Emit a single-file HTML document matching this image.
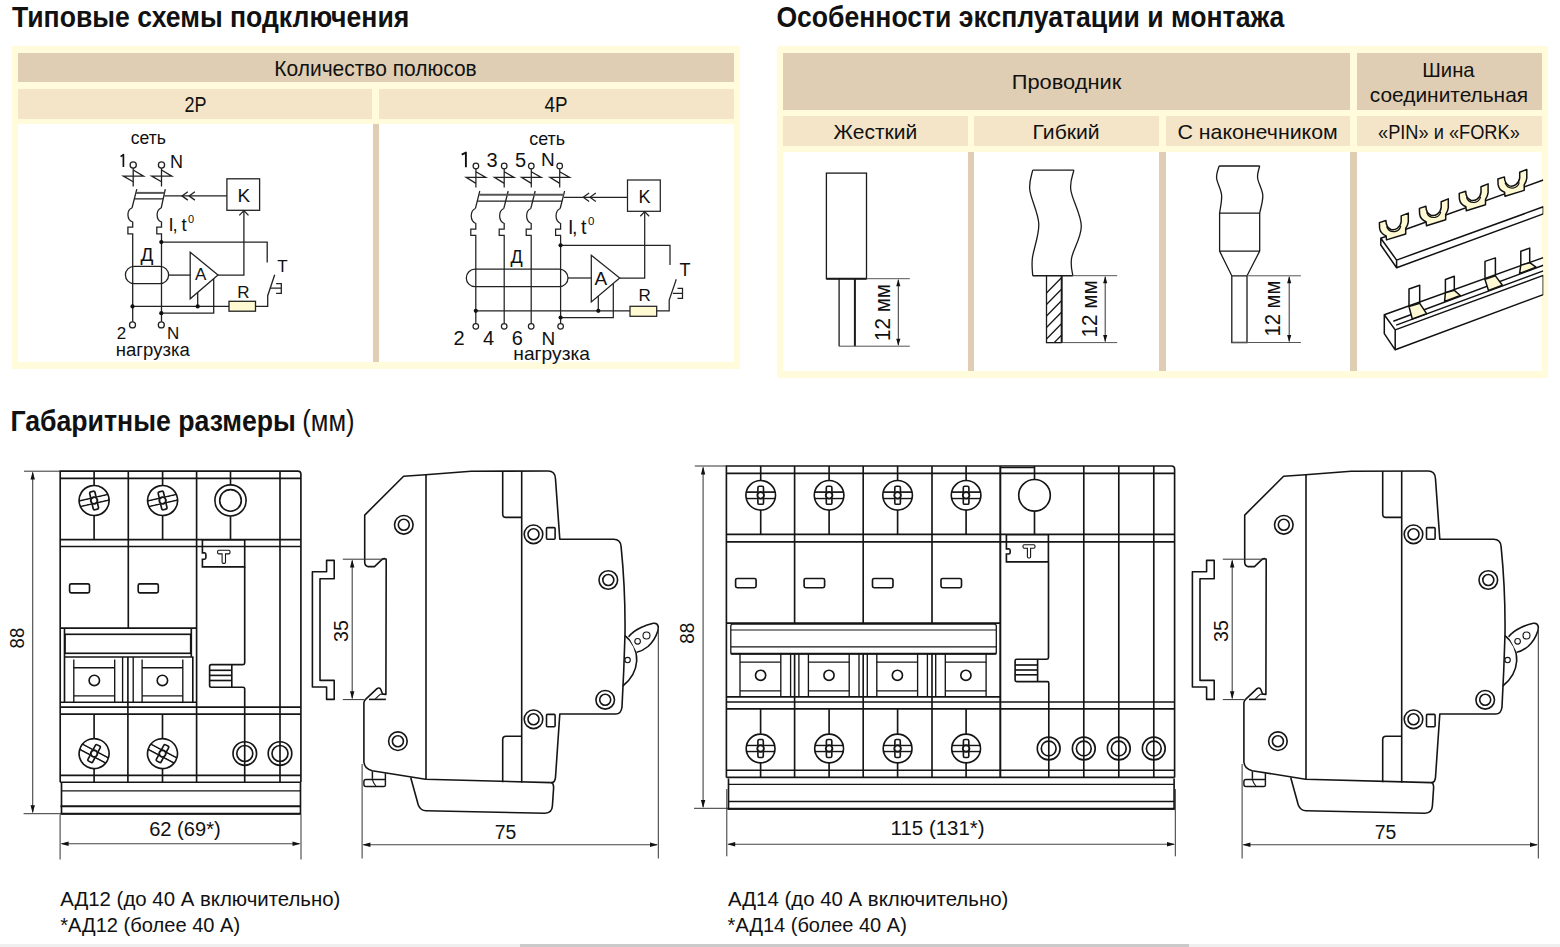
<!DOCTYPE html>
<html><head><meta charset="utf-8"><title>АД12 АД14</title>
<style>
html,body{margin:0;padding:0;background:#fff;}
body{width:1560px;height:947px;overflow:hidden;position:relative;font-family:"Liberation Sans",sans-serif;}
.b{position:absolute;}
.y{background:#FFFBDB;}
.t{background:#DFCEB3;}
.s{background:#F4E4C8;}
.w{background:#fff;}
svg{position:absolute;left:0;top:0;}
</style></head><body>
<!-- left table -->
<div class="b y" style="left:12px;top:46px;width:728px;height:323px"></div>
<div class="b t" style="left:18px;top:53px;width:716px;height:29px"></div>
<div class="b s" style="left:18px;top:89px;width:354px;height:30px"></div>
<div class="b s" style="left:379px;top:89px;width:355px;height:30px"></div>
<div class="b w" style="left:18px;top:124px;width:355px;height:238px"></div>
<div class="b t" style="left:373px;top:124px;width:6px;height:238px"></div>
<div class="b w" style="left:379px;top:124px;width:355px;height:238px"></div>
<!-- right table -->
<div class="b y" style="left:777px;top:46px;width:771px;height:332px"></div>
<div class="b t" style="left:783px;top:53px;width:567px;height:57px"></div>
<div class="b t" style="left:1357px;top:53px;width:185px;height:57px"></div>
<div class="b s" style="left:783px;top:116px;width:185px;height:30px"></div>
<div class="b s" style="left:974px;top:116px;width:185px;height:30px"></div>
<div class="b s" style="left:1166px;top:116px;width:184px;height:30px"></div>
<div class="b s" style="left:1357px;top:116px;width:185px;height:30px"></div>
<div class="b w" style="left:783px;top:152px;width:185px;height:219px"></div>
<div class="b t" style="left:968px;top:152px;width:6px;height:219px"></div>
<div class="b w" style="left:974px;top:152px;width:185px;height:219px"></div>
<div class="b t" style="left:1159px;top:152px;width:7px;height:219px"></div>
<div class="b w" style="left:1166px;top:152px;width:184px;height:219px"></div>
<div class="b t" style="left:1350px;top:152px;width:7px;height:219px"></div>
<div class="b w" style="left:1357px;top:152px;width:185px;height:219px"></div>
<!-- scrollbar -->
<div class="b" style="left:0;top:944px;width:1560px;height:3px;background:#EFEFEF"></div>
<div class="b" style="left:520px;top:944px;width:669px;height:3px;background:#CACACA"></div>

<svg width="1560" height="947" viewBox="0 0 1560 947" font-family="Liberation Sans, sans-serif" fill="#111">
<g id="texts">
<text x="12" y="27.3" font-size="29.2" font-weight="bold" textLength="397.3" lengthAdjust="spacingAndGlyphs">Типовые схемы подключения</text>
<text x="776.4" y="27.3" font-size="29.2" font-weight="bold" textLength="508" lengthAdjust="spacingAndGlyphs">Особенности эксплуатации и монтажа</text>
<text x="10.4" y="430.6" font-size="29.2" font-weight="bold" textLength="285.5" lengthAdjust="spacingAndGlyphs">Габаритные размеры</text>
<text x="302.3" y="430.6" font-size="29" textLength="52.3" lengthAdjust="spacingAndGlyphs">(мм)</text>

<text x="274.3" y="75.8" font-size="21.2" textLength="202.4" lengthAdjust="spacingAndGlyphs">Количество полюсов</text>
<text x="184.4" y="111.8" font-size="21.2" textLength="22" lengthAdjust="spacingAndGlyphs">2P</text>
<text x="544.6" y="111.8" font-size="21.2" textLength="23" lengthAdjust="spacingAndGlyphs">4P</text>

<text x="1011.8" y="89.2" font-size="20.7" textLength="109.4" lengthAdjust="spacingAndGlyphs">Проводник</text>
<text x="1422.3" y="76.7" font-size="20.7" textLength="52.3" lengthAdjust="spacingAndGlyphs">Шина</text>
<text x="1369.8" y="102.1" font-size="20.7" textLength="158.3" lengthAdjust="spacingAndGlyphs">соединительная</text>
<text x="833.6" y="138.9" font-size="20.7" textLength="83.6" lengthAdjust="spacingAndGlyphs">Жесткий</text>
<text x="1032.6" y="138.9" font-size="20.7" textLength="67" lengthAdjust="spacingAndGlyphs">Гибкий</text>
<text x="1177.4" y="138.9" font-size="20.7" textLength="160.3" lengthAdjust="spacingAndGlyphs">С наконечником</text>
<text x="1378" y="139" font-size="20.7" textLength="141.8" lengthAdjust="spacingAndGlyphs">«PIN» и «FORK»</text>

<text x="60.2" y="906" font-size="19.5" textLength="280.2" lengthAdjust="spacingAndGlyphs">АД12 (до 40 А включительно)</text>
<text x="60.2" y="932.3" font-size="19.5" textLength="180" lengthAdjust="spacingAndGlyphs">*АД12 (более 40 А)</text>
<text x="728" y="906" font-size="19.5" textLength="280.3" lengthAdjust="spacingAndGlyphs">АД14 (до 40 А включительно)</text>
<text x="727.6" y="932.3" font-size="19.5" textLength="179.2" lengthAdjust="spacingAndGlyphs">*АД14 (более 40 А)</text>
</g>

<g id="d2p" fill="none" stroke="#222" stroke-width="1.3">
 <circle cx="133.2" cy="165" r="3.1"/>
 <circle cx="161.5" cy="165" r="3.1"/>
 <path d="M133.2,168.1V186.4M161.5,168.1V186.4"/>
 <path d="M133.2,170L143.5,176.1H123.4L133.2,181.7"/>
 <path d="M161.5,170L171.8,176.1H151.7L161.5,181.7"/>
 <path d="M136.8,189.1L132,208M165.3,189.1L161.2,208"/>
 <path d="M135.8,192.9H164.4" stroke="#555" stroke-width="2"/>
 <path d="M134.3,198.9H163.1M164.4,195.9H226.9"/>
 <path d="M187.8,191.7L182,195.9L187.8,200.1M194.9,191.7L189.1,195.9L194.9,200.1"/>
 <rect x="226.9" y="178.8" width="32.7" height="31.5"/>
 <path d="M132,208C126.5,210 126.5,220 132.7,222V227.1H127.9V233.8H132.7V321.8"/>
 <path d="M161.2,208C155.7,210 155.7,220 161.5,222V227.1H156.8V233.8H161.5V321.8"/>
 <path d="M161.3,242.1H267.2V262.5"/>
 <path d="M243.9,210.8V275.1H218"/>
 <path d="M239.3,215.4L243.9,210.6L248.5,215.4"/>
 <path d="M190.2,252.2L218,275.1L190.2,298.8Z"/>
 <rect x="125.4" y="266.3" width="43.2" height="17.4" rx="8.7"/>
 <path d="M168.6,275.1H190.2"/>
 <path d="M132.5,306.4H229M197.7,292.4V306.4"/>
 <rect x="229" y="301.3" width="26.5" height="9.9" fill="#FFFAD2"/>
 <path d="M255.5,306.4H267.7V295.7L274.7,274.7"/>
 <path d="M270.3,288.1H281.3M276.1,283.7H281.3V293.3H276.1"/>
 <path d="M161.3,313.2H213.7V279"/>
 <circle cx="132.5" cy="324.9" r="3"/>
 <circle cx="161.3" cy="324.9" r="3"/>
 <g fill="#111" stroke="none">
  <circle cx="161.3" cy="242.1" r="2.1"/>
  <circle cx="132.5" cy="306.4" r="2.1"/>
  <circle cx="197.7" cy="306.4" r="2.1"/>
  <circle cx="161.3" cy="313.2" r="2.1"/>
 </g>
</g>
<g id="t2p" fill="#111" font-size="18">
 <text x="130.8" y="144.2" textLength="35.2" lengthAdjust="spacingAndGlyphs">сеть</text>
 <path d="M120.6,156.6L123.4,154.6V166.9" fill="none" stroke="#111" stroke-width="1.7" stroke-linejoin="round"/>
 <text x="170" y="167.7">N</text>
 <text x="237.5" y="201.7" font-size="19">K</text>
 <text x="168.6" y="231.4" font-size="18.5">I</text>
 <text x="172.4" y="231.4" font-size="18.5">,</text>
 <text x="181.5" y="231.4" font-size="18.5">t</text>
 <text x="188" y="223" font-size="11">0</text>
 <text x="195" y="280.3" font-size="17">A</text>
 <text x="140.6" y="261.1" font-size="19">Д</text>
 <text x="237.2" y="297.5" font-size="17">R</text>
 <text x="277.2" y="272" font-size="17">T</text>
 <text x="116.8" y="338.6" font-size="17">2</text>
 <text x="167" y="338.6" font-size="17">N</text>
 <text x="115.8" y="355.8" textLength="74" lengthAdjust="spacingAndGlyphs">нагрузка</text>
</g>

<g id="d4p" fill="none" stroke="#222" stroke-width="1.25">
<circle cx="475.9" cy="166" r="2.8"/>
<path d="M475.9,168.8V187.6M475.9,171.8L485.8,177.4H466.2L475.9,183.4"/>
<path d="M479.8,191L475.4,208.5"/>
<path d="M475.4,208.5C469.8,211 469.8,221 475.8,223.5V229.2H470.8V235.4H475.8V323.5"/>
<circle cx="475.8" cy="326.3" r="2.8"/>
<circle cx="504.2" cy="166" r="2.8"/>
<path d="M504.2,168.8V187.6M504.2,171.8L514.1,177.4H494.5L504.2,183.4"/>
<path d="M508.2,191L503.8,208.5"/>
<path d="M503.8,208.5C498.2,211 498.2,221 504.2,223.5V229.2H499.2V235.4H504.2V323.5"/>
<circle cx="504.2" cy="326.3" r="2.8"/>
<circle cx="531.3" cy="166" r="2.8"/>
<path d="M531.3,168.8V187.6M531.3,171.8L541.2,177.4H521.6L531.3,183.4"/>
<path d="M535.2,191L530.8,208.5"/>
<path d="M530.8,208.5C525.2,211 525.2,221 531.2,223.5V229.2H526.2V235.4H531.2V323.5"/>
<circle cx="531.2" cy="326.3" r="2.8"/>
<circle cx="559.7" cy="166" r="2.8"/>
<path d="M559.7,168.8V187.6M559.7,171.8L569.6,177.4H550.0L559.7,183.4"/>
<path d="M564.6,191L560.2,208.5"/>
<path d="M560.2,208.5C554.6,211 554.6,221 560.6,223.5V229.2H555.6V235.4H560.6V323.5"/>
<circle cx="560.6" cy="326.3" r="2.8"/>
 <path d="M479.2,194.8H563.8" stroke="#555" stroke-width="2"/>
 <path d="M477.3,201.2H562.3M563.8,197.3H627.5"/>
 <path d="M589.1,193.1L583.3,197.3L589.1,201.5M595.8,193.1L590,197.3L595.8,201.5"/>
 <rect x="627.5" y="180" width="32.8" height="31.3"/>
 <path d="M644.7,211.8V278H619.7"/>
 <path d="M640.3,216.2L644.7,211.6L649.1,216.2"/>
 <path d="M560.6,245.3H670V265"/>
 <rect x="466.3" y="269.2" width="101.7" height="17.5" rx="8.75"/>
 <path d="M568,278H591.3"/>
 <path d="M591.3,255.3L619.7,278L591.3,302Z"/>
 <path d="M475.8,310.8H630M598.3,296.1V310.8"/>
 <rect x="630" y="306.3" width="26.7" height="10" fill="#FFFAD2"/>
 <path d="M656.7,310.8H669.2V300L676.3,279.2"/>
 <path d="M672.8,293.3H682.5M677.5,288.3H682.5V298.3H677.5"/>
 <path d="M560.6,317.5H613.3V283.4"/>
 <g fill="#111" stroke="none">
  <circle cx="560.6" cy="245.3" r="2.1"/>
  <circle cx="475.8" cy="310.8" r="2.1"/>
  <circle cx="598.3" cy="310.8" r="2.1"/>
  <circle cx="560.6" cy="317.5" r="2.1"/>
 </g>
</g>
<g id="t4p" fill="#111" font-size="19">
 <text x="529.2" y="144.7" textLength="35.8" lengthAdjust="spacingAndGlyphs">сеть</text>
 <path d="M461.7,154.6L465.9,152.6V167.2" fill="none" stroke="#111" stroke-width="1.9" stroke-linejoin="round"/>
 <text x="486.6" y="167" font-size="20">3</text>
 <text x="515" y="167" font-size="20">5</text>
 <text x="541" y="165.7">N</text>
 <text x="638.5" y="203" font-size="18">K</text>
 <text x="568.1" y="233.6" font-size="19.5">I</text>
 <text x="572" y="233.6" font-size="19.5">,</text>
 <text x="581.1" y="233.6" font-size="19.5">t</text>
 <text x="587.9" y="224.7" font-size="11.5">0</text>
 <text x="594.5" y="284.7" font-size="19">A</text>
 <text x="510.5" y="262.5" font-size="18">Д</text>
 <text x="638.5" y="301.3" font-size="17">R</text>
 <text x="679.5" y="275.5" font-size="18">T</text>
 <text x="453.4" y="344.7" font-size="20">2</text>
 <text x="482.9" y="344.7" font-size="20">4</text>
 <text x="511.7" y="344.7" font-size="20">6</text>
 <text x="541.5" y="344.7" font-size="19">N</text>
 <text x="513.3" y="360.3" textLength="76.7" lengthAdjust="spacingAndGlyphs">нагрузка</text>
</g>

<defs><clipPath id="hclip"><rect x="1046.5" y="275.7" width="15.2" height="66.9"/></clipPath></defs>
<g id="cond" fill="none" stroke="#1a1a1a" stroke-width="1.3">
<rect x="826.4" y="173.1" width="40.1" height="105.6"/>
<path d="M826.4,278.7H866.5" stroke-width="2"/>
<path d="M839.1,278.7V346.2"/>
<path d="M854.9,278.7V346.2" stroke-width="2"/>
<path d="M839.1,346.2H909.8M866.5,278.7H909.8" stroke="#555" stroke-width="1"/>
<path d="M898.3,279.7V345.2" stroke="#333" stroke-width="1"/><path d="M898.3,279.2L896.1999999999999,286.2H900.4Z M898.3,345.7L896.1999999999999,338.7H900.4Z" fill="#111" stroke="none"/>
<path d="M1032.7,170.1C1032.2,173.4 1028.8,181.0 1029.8,190.0C1030.8,199.0 1038.4,212.7 1038.8,224.0C1039.2,235.3 1033.4,249.4 1032.4,258.0C1031.4,266.6 1032.7,272.8 1032.7,275.7"/>
<path d="M1073.9,170.1C1073.4,173.4 1069.6,180.7 1070.8,190.0C1072.0,199.3 1081.2,214.7 1081.3,226.0C1081.4,237.3 1073.0,249.7 1071.6,258.0C1070.2,266.3 1072.6,272.8 1072.8,275.7"/>
<path d="M1032.7,170.1H1073.9"/>
<path d="M1032.7,275.7H1072.8" stroke-width="1.6"/>
<path d="M1072.8,275.7H1117.2M1046.5,342.6H1117.2" stroke="#555" stroke-width="1"/>
<path d="M1046.5,275.7V342.6H1061.7"/>
<path d="M1061.7,275.7V342.6" stroke-width="2"/>
<path d="M1046.5,293.0L1061.2,278.0M1046.5,304.5L1061.2,289.5M1046.5,316.0L1061.2,301.0M1046.5,327.5L1061.2,312.5M1046.5,339.0L1061.2,324.0M1046.5,350.5L1061.2,335.5" clip-path="url(#hclip)"/>
<path d="M1105.2,276.7V341.6" stroke="#333" stroke-width="1"/><path d="M1105.2,276.2L1103.1000000000001,283.2H1107.3Z M1105.2,342.1L1103.1000000000001,335.1H1107.3Z" fill="#111" stroke="none"/>
<path d="M1219.1,166.0C1218.7,168.0 1216.2,173.2 1216.6,178.0C1217.0,182.8 1221.1,189.2 1221.6,195.0C1222.1,200.8 1219.9,210.1 1219.6,213.1"/>
<path d="M1259.7,166.0C1259.3,168.0 1257.1,173.2 1257.6,178.0C1258.1,182.8 1262.4,189.2 1262.8,195.0C1263.2,200.8 1260.2,210.1 1259.7,213.1"/>
<path d="M1219.1,166H1259.7M1219.6,213.1H1259.7"/>
<path d="M1219.6,213.1V251.1L1231.8,275.8V342.5H1247V275.8L1259.7,251.1V213.1M1219.6,251.1H1259.7M1231.8,275.8H1247"/>
<path d="M1247,275.8H1300.9M1231.8,342.5H1300.9" stroke="#555" stroke-width="1"/>
<path d="M1289.2,276.8V341.5" stroke="#333" stroke-width="1"/><path d="M1289.2,276.3L1287.1000000000001,283.3H1291.3Z M1289.2,342.0L1287.1000000000001,335.0H1291.3Z" fill="#111" stroke="none"/>
</g>
<g fill="#111" font-size="22">
 <text transform="translate(889.7,341) rotate(-90)" textLength="57" lengthAdjust="spacingAndGlyphs">12 мм</text>
 <text transform="translate(1096.6,337.4) rotate(-90)" textLength="57" lengthAdjust="spacingAndGlyphs">12 мм</text>
 <text transform="translate(1280.3,336.6) rotate(-90)" textLength="56" lengthAdjust="spacingAndGlyphs">12 мм</text>
</g>

<defs><clipPath id="bclip"><rect x="1357" y="152" width="186.3" height="219"/></clipPath></defs>
<g id="bus" fill="none" stroke="#111" stroke-width="1.5" stroke-linejoin="round" clip-path="url(#bclip)">
 <path d="M1380.8,238.3L1543.3,180"/>
 <path d="M1380.8,238.3V245L1396.6,267.7V260.1ZM1396.6,260.1L1543.3,206.8V213.9L1396.6,267.7"/>
 <g transform="translate(0,0)"><path d="M1379.4,222.6L1385.9,220.5C1386,224.5 1387.5,228 1391,229.5C1395,230.8 1400.5,227.5 1401.2,221.5L1401.2,215.9L1408.3,213.1L1408.3,221.8C1408,224.5 1407,226.5 1405.7,228.5L1405.7,234L1386.5,239.9L1386.1,235.9C1382.5,234.5 1380,231.5 1379.6,228Z" fill="#FFF9D4"/><path d="M1386.6,226.5C1388,230.5 1391.5,232 1395,231.6C1398,231 1400,229 1400.8,226" stroke-width="1.2"/></g>
<g transform="translate(40,-14.2)"><path d="M1379.4,222.6L1385.9,220.5C1386,224.5 1387.5,228 1391,229.5C1395,230.8 1400.5,227.5 1401.2,221.5L1401.2,215.9L1408.3,213.1L1408.3,221.8C1408,224.5 1407,226.5 1405.7,228.5L1405.7,234L1386.5,239.9L1386.1,235.9C1382.5,234.5 1380,231.5 1379.6,228Z" fill="#FFF9D4"/><path d="M1386.6,226.5C1388,230.5 1391.5,232 1395,231.6C1398,231 1400,229 1400.8,226" stroke-width="1.2"/></g>
<g transform="translate(79.8,-29.2)"><path d="M1379.4,222.6L1385.9,220.5C1386,224.5 1387.5,228 1391,229.5C1395,230.8 1400.5,227.5 1401.2,221.5L1401.2,215.9L1408.3,213.1L1408.3,221.8C1408,224.5 1407,226.5 1405.7,228.5L1405.7,234L1386.5,239.9L1386.1,235.9C1382.5,234.5 1380,231.5 1379.6,228Z" fill="#FFF9D4"/><path d="M1386.6,226.5C1388,230.5 1391.5,232 1395,231.6C1398,231 1400,229 1400.8,226" stroke-width="1.2"/></g>
<g transform="translate(118.5,-43.6)"><path d="M1379.4,222.6L1385.9,220.5C1386,224.5 1387.5,228 1391,229.5C1395,230.8 1400.5,227.5 1401.2,221.5L1401.2,215.9L1408.3,213.1L1408.3,221.8C1408,224.5 1407,226.5 1405.7,228.5L1405.7,234L1386.5,239.9L1386.1,235.9C1382.5,234.5 1380,231.5 1379.6,228Z" fill="#FFF9D4"/><path d="M1386.6,226.5C1388,230.5 1391.5,232 1395,231.6C1398,231 1400,229 1400.8,226" stroke-width="1.2"/></g>

 <path d="M1384.3,314.7V333.7L1395.2,349.8V329.9ZM1384.3,314.7L1543.3,257.6"/>
 <path d="M1393.3,321.3L1543.3,265.3M1396.2,325.1L1543.3,270.9"/>
 <path d="M1395.2,329.9L1543.3,275.4V294.6L1395.2,349.8"/>
 <path d="M1409,306.6V289L1419.7,285.2V303.3"/>
 <path d="M1409,306.6L1419.7,303.3L1426.6,313.7L1412.3,319Z" fill="#FFF9D4"/>
 <path d="M1445.4,292.8V279.5L1454.3,276.2V290.4"/>
 <path d="M1445.4,292.8L1454.3,290.4L1460.3,295.5L1444.6,301.4Z" fill="#FFF9D4"/>
 <path d="M1485,279.4V261.4L1495.4,257.9V275.9"/>
 <path d="M1485,279.4L1495.4,275.9L1502.4,285.2L1488.5,290.4Z" fill="#FFF9D4"/>
 <path d="M1520.8,265.2V251.3L1529.7,248.1V262.7"/>
 <path d="M1520.8,265.2L1529.7,262.7L1536,267.1L1519.6,273.4Z" fill="#FFF9D4"/>
</g>
<!--DIMS-->
<g id="f2p" fill="none" stroke="#151515" stroke-width="1.65">
<path d="M60.2,782.2V471.1H297.9Q300.9,471.1 300.9,474.1V782.2" />
<path d="M128.3,471.1V628.1" />
<path d="M196.6,471.1V782.2" />
<path d="M280,471.1V782.2" />
<path d="M60.2,478.4H300.9" />
<path d="M60.2,539.6H300.9" />
<path d="M60.2,628.1H196.6" />
<path d="M60.2,702.2H196.6" />
<path d="M60.2,707.1H300.9" />
<path d="M60.2,714.1H300.9" />
<path d="M60.2,775.4H300.9" />
<path d="M60.2,782.2H300.9" />
<path d="M94.1,471.1V485.5" />
<path d="M94.1,515.5V539.6" />
<g transform="translate(94.1,500.5) rotate(-13)"><circle r="15"/><rect x="-2.7" y="-9.2" width="5.4" height="18.4" rx="1.4" fill="#fff"/><path d="M-14.74,-2.8H14.74M-14.74,2.8H14.74"/><rect x="-1.9500000000000002" y="-2.05" width="3.9000000000000004" height="4.1" fill="#fff" stroke="none"/><rect x="-13.74" y="-2.05" width="27.47" height="4.1" fill="#fff" stroke="none"/><rect x="-1.9500000000000002" y="-3.65" width="3.9000000000000004" height="7.3" fill="#fff" stroke="none"/><circle r="3.3" fill="#fff" stroke-width="1.9"/></g>
<path d="M162.6,471.1V485.5" />
<path d="M162.6,515.5V539.6" />
<g transform="translate(162.6,500.5) rotate(-13)"><circle r="15"/><rect x="-2.7" y="-9.2" width="5.4" height="18.4" rx="1.4" fill="#fff"/><path d="M-14.74,-2.8H14.74M-14.74,2.8H14.74"/><rect x="-1.9500000000000002" y="-2.05" width="3.9000000000000004" height="4.1" fill="#fff" stroke="none"/><rect x="-13.74" y="-2.05" width="27.47" height="4.1" fill="#fff" stroke="none"/><rect x="-1.9500000000000002" y="-3.65" width="3.9000000000000004" height="7.3" fill="#fff" stroke="none"/><circle r="3.3" fill="#fff" stroke-width="1.9"/></g>
<path d="M230.5,471.1V484.6" />
<path d="M230.5,516.2V539.6" />
<circle cx="230.5" cy="500.4" r="15.6" />
<circle cx="230.5" cy="500.4" r="10.8" />
<path d="M202.4,539.9V552.8H204.4Q205.9,553 205.9,554.6V557.5Q205.9,559.1 204.4,559.2H202.4V566.9H244.7V539.9Z" fill="#fff"/>
<path d="M60.2,546.5H300.9" />
<path d="M217.6,551.4Q217.6,550.2 218.8,550.2H228.8Q230,550.2 230,551.4V552.6Q230,553.9 228.8,553.9H225.5V562.2Q225.5,563.4 224.3,563.4H223.3Q222.1,563.4 222.1,562.2V553.9H218.8Q217.6,553.9 217.6,552.6Z" stroke-width="1.1"/>
<path d="M244.7,566.9V663Q244.7,664.6 243,664.6H211.3Q209.6,664.6 209.6,666.3V685.5Q209.6,687.2 211.3,687.2H243Q244.7,687.2 244.7,688.9V782.2" />
<path d="M231.8,664.6V687.2" />
<path d="M209.6,670.3H231.8" />
<path d="M209.6,675.4H231.8" />
<path d="M209.6,680.5H231.8" />
<rect x="69.6" y="583.8" width="19.90" height="9.10" rx="1.6" />
<rect x="138.2" y="583.8" width="20.10" height="9.10" rx="1.6" />
<path d="M64.5,628.1V702.2" />
<path d="M191.3,628.1V657" />
<path d="M192.8,657V702.2" />
<rect x="65" y="634.3" width="125.70" height="19.00" rx="0" />
<path d="M64.5,657H193.4" />
<path d="M73.8,659.4V702.2" stroke-width="1.35"/>
<path d="M114.7,659.4V702.2" stroke-width="1.35"/>
<path d="M142.1,659.4V702.2" stroke-width="1.35"/>
<path d="M182.8,659.4V702.2" stroke-width="1.35"/>
<path d="M122.6,657V702.2" stroke-width="1.35"/>
<path d="M133.2,657V702.2" stroke-width="1.35"/>
<path d="M127.9,657V782.2" />
<path d="M73.8,667.7H114.7" stroke-width="1.35"/>
<path d="M73.8,695.8H114.7" stroke-width="1.35"/>
<path d="M142.1,667.7H182.8" stroke-width="1.35"/>
<path d="M142.1,695.8H182.8" stroke-width="1.35"/>
<circle cx="94.3" cy="680.4" r="5.2" />
<circle cx="162.4" cy="680.4" r="5.2" />
<path d="M94.1,714.1V738.7" />
<path d="M94.1,768.5V782.2" />
<g transform="translate(94.1,753.6) rotate(28)"><circle r="15"/><rect x="-2.7" y="-9.2" width="5.4" height="18.4" rx="1.4" fill="#fff"/><path d="M-14.74,-2.8H14.74M-14.74,2.8H14.74"/><rect x="-1.9500000000000002" y="-2.05" width="3.9000000000000004" height="4.1" fill="#fff" stroke="none"/><rect x="-13.74" y="-2.05" width="27.47" height="4.1" fill="#fff" stroke="none"/><rect x="-1.9500000000000002" y="-3.65" width="3.9000000000000004" height="7.3" fill="#fff" stroke="none"/><circle r="3.3" fill="#fff" stroke-width="1.9"/></g>
<path d="M162.5,714.1V738.7" />
<path d="M162.5,768.5V782.2" />
<g transform="translate(162.5,753.6) rotate(28)"><circle r="15"/><rect x="-2.7" y="-9.2" width="5.4" height="18.4" rx="1.4" fill="#fff"/><path d="M-14.74,-2.8H14.74M-14.74,2.8H14.74"/><rect x="-1.9500000000000002" y="-2.05" width="3.9000000000000004" height="4.1" fill="#fff" stroke="none"/><rect x="-13.74" y="-2.05" width="27.47" height="4.1" fill="#fff" stroke="none"/><rect x="-1.9500000000000002" y="-3.65" width="3.9000000000000004" height="7.3" fill="#fff" stroke="none"/><circle r="3.3" fill="#fff" stroke-width="1.9"/></g>
<circle cx="244.8" cy="753.5" r="11.8" />
<circle cx="244.8" cy="753.5" r="8" />
<circle cx="280" cy="753.5" r="11.8" />
<circle cx="280" cy="753.5" r="8" />
<path d="M61.5,782.6V813.7H300.5V782.6" />
<path d="M61.5,790.8H300.5" stroke-width="1.2"/>
<path d="M60.5,806.3H301" stroke-width="2"/>
<path d="M60.5,813.7H301" stroke-width="2"/>
</g>
<g fill="none">
<path d="M24,471.2H60" stroke="#333" stroke-width="1"/>
<path d="M23.6,813.7H60.5" stroke="#333" stroke-width="1"/>
<path d="M32.7,472.6V812.3" stroke="#444" stroke-width="1.1"/>
<path d="M32.7,471.6L30.500000000000004,479.6H34.900000000000006ZM32.7,813.3L30.500000000000004,805.3H34.900000000000006Z" fill="#111" stroke="none"/>
<path d="M60.1,814.5V859.5" stroke="#333" stroke-width="1"/>
<path d="M301,814.5V859.5" stroke="#333" stroke-width="1"/>
<path d="M61.6,843.7H299.5" stroke="#444" stroke-width="1.1"/>
<path d="M60.6,843.7L68.6,841.5V845.9000000000001ZM300.5,843.7L292.5,841.5V845.9000000000001Z" fill="#111" stroke="none"/>
</g>
<g id="side" fill="none" stroke="#151515" stroke-width="1.6" stroke-linejoin="round">
<path d="M364.7,515.1L403.6,476.2L425.5,474.8L471,471.2L548,471Q555.3,471 555.5,479L559.8,539.2L613.6,539.2Q620.8,539.4 621.1,546.6Q625.5,590 625,634Q624,670 622,707Q621.2,714 615.7,714L559.8,714L555.5,777.3Q555,782.6 551.3,782.6L425.5,779.2L372.2,770.7Q363.9,768.5 363.9,761.2L363.9,703Q364,700.6 365.8,699.2L377,688.6Q379.3,687 380.8,689.5L382.3,693.6Q383,694.4 385.9,694.4L386.2,559.4Q385,558.3 383.8,558.6Q382.8,558.8 382.1,559.4L374.5,566.6L368.2,566.6Q364.7,566 364.7,562Z" />
<path d="M369,699.4H385.9" />
<path d="M375.3,698.8L380.4,694.2H385.5" stroke-width="1.1"/>
<path d="M426,474.8V779.2" />
<path d="M521.7,471V782.6" />
<path d="M502.7,471.2V514Q502.7,517.4 506,517.4H521.7" />
<path d="M502.7,782.3V739.6Q502.7,736.2 506,736.2H521.7" />
<path d="M410.7,777.5L418.3,805Q420.5,810.6 426,810.8L545,813.2Q552,813 552.4,806L553.6,788Q553.8,783.5 551.3,782.6" />
<path d="M372.4,771.2V778.4M385.4,773.2V785Q385.4,786.4 384.2,786.4H366Q363.9,786.4 363.9,784.4V781.6Q363.9,779.4 366,779.4H385.4" stroke-width="1.45"/>
<path d="M372.4,778.6Q372.4,782 376,786" stroke-width="1.1"/>
<circle cx="403.8" cy="524.8" r="9.3" />
<circle cx="403.8" cy="524.8" r="5.5" />
<circle cx="533.5" cy="534.3" r="9.3" />
<circle cx="533.5" cy="534.3" r="5.5" />
<circle cx="608.3" cy="580" r="9.3" />
<circle cx="608.3" cy="580" r="5.5" />
<circle cx="605.2" cy="699.8" r="9.3" />
<circle cx="605.2" cy="699.8" r="5.5" />
<circle cx="533.5" cy="719.3" r="9.3" />
<circle cx="533.5" cy="719.3" r="5.5" />
<circle cx="397.9" cy="741.2" r="9.3" />
<circle cx="397.9" cy="741.2" r="5.5" />
<rect x="546.5" y="527.6" width="8.60" height="11.60" rx="1" />
<rect x="546.5" y="714.4" width="8.60" height="12.30" rx="1" />
<path d="M624.9,635.6C632,641 637,650 636.7,661C636,671 630.5,680 622.8,686" />
<circle cx="627.6" cy="660.1" r="2.7" stroke-width="1.1"/>
<path d="M628.6,636.8Q633,631 641,627.4Q647,624.6 653.4,623.3Q657.6,622.8 658.2,626.5Q658.6,629 657.6,631.5Q655,640 648,646.5Q642.5,651 636.7,652.3" fill="#fff"/>
<circle cx="637.6" cy="641.3" r="2.8" stroke-width="1.1"/>
<circle cx="646.5" cy="635.5" r="3.5" stroke-width="1.1"/>
<path d="M312.4,571.8H326.6V560.4H334.2V578.8H320V680.4H334.2V699.4H326.6V687H312.4Z" />
</g>
<g fill="none">
<path d="M342.8,559.2H386.7" stroke="#333" stroke-width="1"/>
<path d="M342.8,699.6H364.4" stroke="#333" stroke-width="1"/>
<path d="M352.2,560.5V698.3" stroke="#444" stroke-width="1.1"/>
<path d="M352.2,559.5L350.0,567.5H354.4ZM352.2,699.3L350.0,691.3H354.4Z" fill="#111" stroke="none"/>
<path d="M362.1,764V858.5" stroke="#333" stroke-width="1"/>
<path d="M658.3,628V858.5" stroke="#333" stroke-width="1"/>
<path d="M363.4,844.8H657" stroke="#444" stroke-width="1.1"/>
<path d="M362.4,844.8L370.4,842.5999999999999V847.0ZM658,844.8L650,842.5999999999999V847.0Z" fill="#111" stroke="none"/>
</g>
<g fill="#111" font-size="20.7">
<text transform="translate(24.4,648.4) rotate(-90)" font-size="21" textLength="20.6" lengthAdjust="spacingAndGlyphs">88</text>
<text x="149.2" y="836.3" textLength="71.5" lengthAdjust="spacingAndGlyphs">62 (69*)</text>
<text transform="translate(347.5,641.9) rotate(-90)" font-size="21" textLength="21.8" lengthAdjust="spacingAndGlyphs">35</text>
<text x="494.8" y="838.7" textLength="21.5" lengthAdjust="spacingAndGlyphs">75</text>
</g>
<g id="f4p" fill="none" stroke="#151515" stroke-width="1.65">
<path d="M726.4,777.4V466H1171.6Q1174.6,466 1174.6,469V777.4" />
<path d="M794.6,466V623.1" />
<path d="M794.6,653.6V777.4" />
<path d="M863.2,466V623.1" />
<path d="M863.2,653.6V777.4" />
<path d="M932.0,466V623.1" />
<path d="M932.0,653.6V777.4" />
<path d="M1000.3,466V777.4" stroke-width="2"/>
<path d="M1083.8,466V777.4" />
<path d="M1118.8,466V777.4" />
<path d="M1153.8,466V777.4" />
<path d="M1001,467.6H1034.5" stroke-width="1.1"/>
<path d="M726.4,473.4H1174.6" />
<path d="M726.4,534.3H1174.6" />
<path d="M726.4,623.1H1000.3" />
<path d="M726.4,696.9H1000.3" />
<path d="M726.4,702H1174.6" />
<path d="M726.4,708.9H1174.6" />
<path d="M726.4,770.2H1174.6" />
<path d="M726.4,777.4H1174.6" />
<path d="M760.7,466V480.6" />
<path d="M760.7,510.1V534.3" />
<g transform="translate(760.7,495.3) rotate(0)"><circle r="14.8"/><rect x="-2.8" y="-9.0" width="5.6" height="18" rx="1.4" fill="#fff"/><path d="M-14.47,-3.1H14.47M-14.47,3.1H14.47"/><rect x="-2.05" y="-2.35" width="4.1" height="4.7" fill="#fff" stroke="none"/><rect x="-13.47" y="-2.35" width="26.94" height="4.7" fill="#fff" stroke="none"/><rect x="-2.05" y="-3.95" width="4.1" height="7.9" fill="#fff" stroke="none"/><circle r="3.3" fill="#fff" stroke-width="1.9"/></g>
<path d="M829.1,466V480.6" />
<path d="M829.1,510.1V534.3" />
<g transform="translate(829.1,495.3) rotate(0)"><circle r="14.8"/><rect x="-2.8" y="-9.0" width="5.6" height="18" rx="1.4" fill="#fff"/><path d="M-14.47,-3.1H14.47M-14.47,3.1H14.47"/><rect x="-2.05" y="-2.35" width="4.1" height="4.7" fill="#fff" stroke="none"/><rect x="-13.47" y="-2.35" width="26.94" height="4.7" fill="#fff" stroke="none"/><rect x="-2.05" y="-3.95" width="4.1" height="7.9" fill="#fff" stroke="none"/><circle r="3.3" fill="#fff" stroke-width="1.9"/></g>
<path d="M897.6,466V480.6" />
<path d="M897.6,510.1V534.3" />
<g transform="translate(897.6,495.3) rotate(0)"><circle r="14.8"/><rect x="-2.8" y="-9.0" width="5.6" height="18" rx="1.4" fill="#fff"/><path d="M-14.47,-3.1H14.47M-14.47,3.1H14.47"/><rect x="-2.05" y="-2.35" width="4.1" height="4.7" fill="#fff" stroke="none"/><rect x="-13.47" y="-2.35" width="26.94" height="4.7" fill="#fff" stroke="none"/><rect x="-2.05" y="-3.95" width="4.1" height="7.9" fill="#fff" stroke="none"/><circle r="3.3" fill="#fff" stroke-width="1.9"/></g>
<path d="M966.1,466V480.6" />
<path d="M966.1,510.1V534.3" />
<g transform="translate(966.1,495.3) rotate(0)"><circle r="14.8"/><rect x="-2.8" y="-9.0" width="5.6" height="18" rx="1.4" fill="#fff"/><path d="M-14.47,-3.1H14.47M-14.47,3.1H14.47"/><rect x="-2.05" y="-2.35" width="4.1" height="4.7" fill="#fff" stroke="none"/><rect x="-13.47" y="-2.35" width="26.94" height="4.7" fill="#fff" stroke="none"/><rect x="-2.05" y="-3.95" width="4.1" height="7.9" fill="#fff" stroke="none"/><circle r="3.3" fill="#fff" stroke-width="1.9"/></g>
<path d="M1034.5,466V479.5" />
<path d="M1034.5,511.1V534.3" />
<circle cx="1034.5" cy="495.3" r="15.8" />
<path d="M1006.4,534.7V548.8H1008.6Q1010.2,549 1010.2,550.8V552.2Q1010.2,553.9 1008.6,554H1006.4V561.8H1048.4V534.7Z" fill="#fff"/>
<path d="M726.4,541.9H1174.6" />
<path d="M1023,545.9Q1023,544.7 1024.2,544.7H1033.8Q1035,544.7 1035,545.9V547.1Q1035,548.3 1033.8,548.3H1030.6V556.8Q1030.6,558 1029.4,558H1028.6Q1027.4,558 1027.4,556.8V548.3H1024.2Q1023,548.3 1023,547.1Z" stroke-width="1.1"/>
<path d="M1048.5,562.2V657.6Q1048.5,659.2 1046.9,659.2H1016.7Q1015.1,659.2 1015.1,660.8V680Q1015.1,681.6 1016.7,681.6H1047.4Q1048.8,681.6 1048.8,683.2V777.4" />
<path d="M1037.6,659.2V681.6" />
<path d="M1015.1,665H1037.6" />
<path d="M1015.1,670H1037.6" />
<path d="M1015.1,674.8H1037.6" />
<rect x="735.6" y="578.5" width="20.50" height="9.20" rx="1.6" />
<rect x="804.1" y="578.5" width="20.50" height="9.20" rx="1.6" />
<rect x="872.5" y="578.5" width="20.50" height="9.20" rx="1.6" />
<rect x="941.0" y="578.5" width="20.50" height="9.20" rx="1.6" />
<rect x="730.8" y="624.1" width="265.50" height="30.10" rx="2" stroke-width="1.3"/>
<path d="M731,630H996" stroke-width="1.2"/>
<path d="M731,646.9H996" stroke-width="1.2"/>
<path d="M730.8,653.6H996.3" />
<path d="M740.0,653.6V696.9" stroke-width="1.35"/>
<path d="M780.8,653.6V696.9" stroke-width="1.35"/>
<path d="M790.6,653.6V696.9" stroke-width="1.35"/>
<path d="M798.9,653.6V696.9" stroke-width="1.35"/>
<path d="M740.0,662.1H780.8" stroke-width="1.35"/>
<path d="M740.0,690.9H780.8" stroke-width="1.35"/>
<circle cx="760.6" cy="675.3" r="5.1" />
<path d="M808.4,653.6V696.9" stroke-width="1.35"/>
<path d="M849.2,653.6V696.9" stroke-width="1.35"/>
<path d="M859.0,653.6V696.9" stroke-width="1.35"/>
<path d="M867.3,653.6V696.9" stroke-width="1.35"/>
<path d="M808.4,662.1H849.2" stroke-width="1.35"/>
<path d="M808.4,690.9H849.2" stroke-width="1.35"/>
<circle cx="829.0" cy="675.3" r="5.1" />
<path d="M876.8,653.6V696.9" stroke-width="1.35"/>
<path d="M917.6,653.6V696.9" stroke-width="1.35"/>
<path d="M927.4,653.6V696.9" stroke-width="1.35"/>
<path d="M935.7,653.6V696.9" stroke-width="1.35"/>
<path d="M876.8,662.1H917.6" stroke-width="1.35"/>
<path d="M876.8,690.9H917.6" stroke-width="1.35"/>
<circle cx="897.4" cy="675.3" r="5.1" />
<path d="M945.3,653.6V696.9" stroke-width="1.35"/>
<path d="M986.1,653.6V696.9" stroke-width="1.35"/>
<path d="M945.3,662.1H986.1" stroke-width="1.35"/>
<path d="M945.3,690.9H986.1" stroke-width="1.35"/>
<circle cx="965.9" cy="675.3" r="5.1" />
<path d="M760.6,708.9V734.1" />
<path d="M760.6,762.9V777.4" />
<g transform="translate(760.6,748.5) rotate(0)"><circle r="14.4"/><rect x="-2.7" y="-9.0" width="5.4" height="18" rx="1.4" fill="#fff"/><path d="M-14.10,-2.9H14.10M-14.10,2.9H14.10"/><rect x="-1.9500000000000002" y="-2.15" width="3.9000000000000004" height="4.3" fill="#fff" stroke="none"/><rect x="-13.10" y="-2.15" width="26.21" height="4.3" fill="#fff" stroke="none"/><rect x="-1.9500000000000002" y="-3.75" width="3.9000000000000004" height="7.5" fill="#fff" stroke="none"/><circle r="3.3" fill="#fff" stroke-width="1.9"/></g>
<path d="M829.1,708.9V734.1" />
<path d="M829.1,762.9V777.4" />
<g transform="translate(829.1,748.5) rotate(0)"><circle r="14.4"/><rect x="-2.7" y="-9.0" width="5.4" height="18" rx="1.4" fill="#fff"/><path d="M-14.10,-2.9H14.10M-14.10,2.9H14.10"/><rect x="-1.9500000000000002" y="-2.15" width="3.9000000000000004" height="4.3" fill="#fff" stroke="none"/><rect x="-13.10" y="-2.15" width="26.21" height="4.3" fill="#fff" stroke="none"/><rect x="-1.9500000000000002" y="-3.75" width="3.9000000000000004" height="7.5" fill="#fff" stroke="none"/><circle r="3.3" fill="#fff" stroke-width="1.9"/></g>
<path d="M897.6,708.9V734.1" />
<path d="M897.6,762.9V777.4" />
<g transform="translate(897.6,748.5) rotate(0)"><circle r="14.4"/><rect x="-2.7" y="-9.0" width="5.4" height="18" rx="1.4" fill="#fff"/><path d="M-14.10,-2.9H14.10M-14.10,2.9H14.10"/><rect x="-1.9500000000000002" y="-2.15" width="3.9000000000000004" height="4.3" fill="#fff" stroke="none"/><rect x="-13.10" y="-2.15" width="26.21" height="4.3" fill="#fff" stroke="none"/><rect x="-1.9500000000000002" y="-3.75" width="3.9000000000000004" height="7.5" fill="#fff" stroke="none"/><circle r="3.3" fill="#fff" stroke-width="1.9"/></g>
<path d="M966.1,708.9V734.1" />
<path d="M966.1,762.9V777.4" />
<g transform="translate(966.1,748.5) rotate(0)"><circle r="14.4"/><rect x="-2.7" y="-9.0" width="5.4" height="18" rx="1.4" fill="#fff"/><path d="M-14.10,-2.9H14.10M-14.10,2.9H14.10"/><rect x="-1.9500000000000002" y="-2.15" width="3.9000000000000004" height="4.3" fill="#fff" stroke="none"/><rect x="-13.10" y="-2.15" width="26.21" height="4.3" fill="#fff" stroke="none"/><rect x="-1.9500000000000002" y="-3.75" width="3.9000000000000004" height="7.5" fill="#fff" stroke="none"/><circle r="3.3" fill="#fff" stroke-width="1.9"/></g>
<circle cx="1048.7" cy="748.5" r="11.4" />
<circle cx="1048.7" cy="748.5" r="7.4" />
<circle cx="1083.8" cy="748.5" r="11.4" />
<circle cx="1083.8" cy="748.5" r="7.4" />
<circle cx="1118.8" cy="748.5" r="11.4" />
<circle cx="1118.8" cy="748.5" r="7.4" />
<circle cx="1153.8" cy="748.5" r="11.4" />
<circle cx="1153.8" cy="748.5" r="7.4" />
<path d="M728.5,778.6V808.8H1174.1V778.6" />
<path d="M728.5,784.3H1174.1" stroke-width="1.2"/>
<path d="M728.5,801.4H1174.1" stroke-width="1.5"/>
<path d="M727.5,808.8H1174.6" stroke-width="2"/>
</g>
<g fill="none">
<path d="M694.8,466H726" stroke="#333" stroke-width="1"/>
<path d="M694,808.3H728" stroke="#333" stroke-width="1"/>
<path d="M703.1,467.4V807" stroke="#444" stroke-width="1.1"/>
<path d="M703.1,466.4L700.9,474.4H705.3000000000001ZM703.1,808L700.9,800H705.3000000000001Z" fill="#111" stroke="none"/>
<path d="M726.8,789V856.3" stroke="#333" stroke-width="1"/>
<path d="M1175.3,789V856.3" stroke="#333" stroke-width="1"/>
<path d="M728.2,844.3H1174" stroke="#444" stroke-width="1.1"/>
<path d="M727.2,844.3L735.2,842.0999999999999V846.5ZM1175,844.3L1167,842.0999999999999V846.5Z" fill="#111" stroke="none"/>
</g>
<use href="#side" transform="translate(880,0)"/>
<g fill="none">
<path d="M1222.8,559.2H1266.7" stroke="#333" stroke-width="1"/>
<path d="M1222.8,699.6H1244.4" stroke="#333" stroke-width="1"/>
<path d="M1232.2,560.5V698.3" stroke="#444" stroke-width="1.1"/>
<path d="M1232.2,559.5L1230.0,567.5H1234.4ZM1232.2,699.3L1230.0,691.3H1234.4Z" fill="#111" stroke="none"/>
<path d="M1242.1,764V858.5" stroke="#333" stroke-width="1"/>
<path d="M1538.3,628V858.5" stroke="#333" stroke-width="1"/>
<path d="M1243.4,844.8H1537" stroke="#444" stroke-width="1.1"/>
<path d="M1242.4,844.8L1250.4,842.5999999999999V847.0ZM1538,844.8L1530,842.5999999999999V847.0Z" fill="#111" stroke="none"/>
</g>
<g fill="#111" font-size="20.7">
<text transform="translate(694.3,643.8) rotate(-90)" font-size="21" textLength="21" lengthAdjust="spacingAndGlyphs">88</text>
<text x="890.6" y="835.2" textLength="94" lengthAdjust="spacingAndGlyphs">115 (131*)</text>
<text transform="translate(1227.5,641.9) rotate(-90)" font-size="21" textLength="21.8" lengthAdjust="spacingAndGlyphs">35</text>
<text x="1374.8" y="838.7" textLength="21.5" lengthAdjust="spacingAndGlyphs">75</text>
</g>
<!--/DIMS-->
</svg>
</body></html>
